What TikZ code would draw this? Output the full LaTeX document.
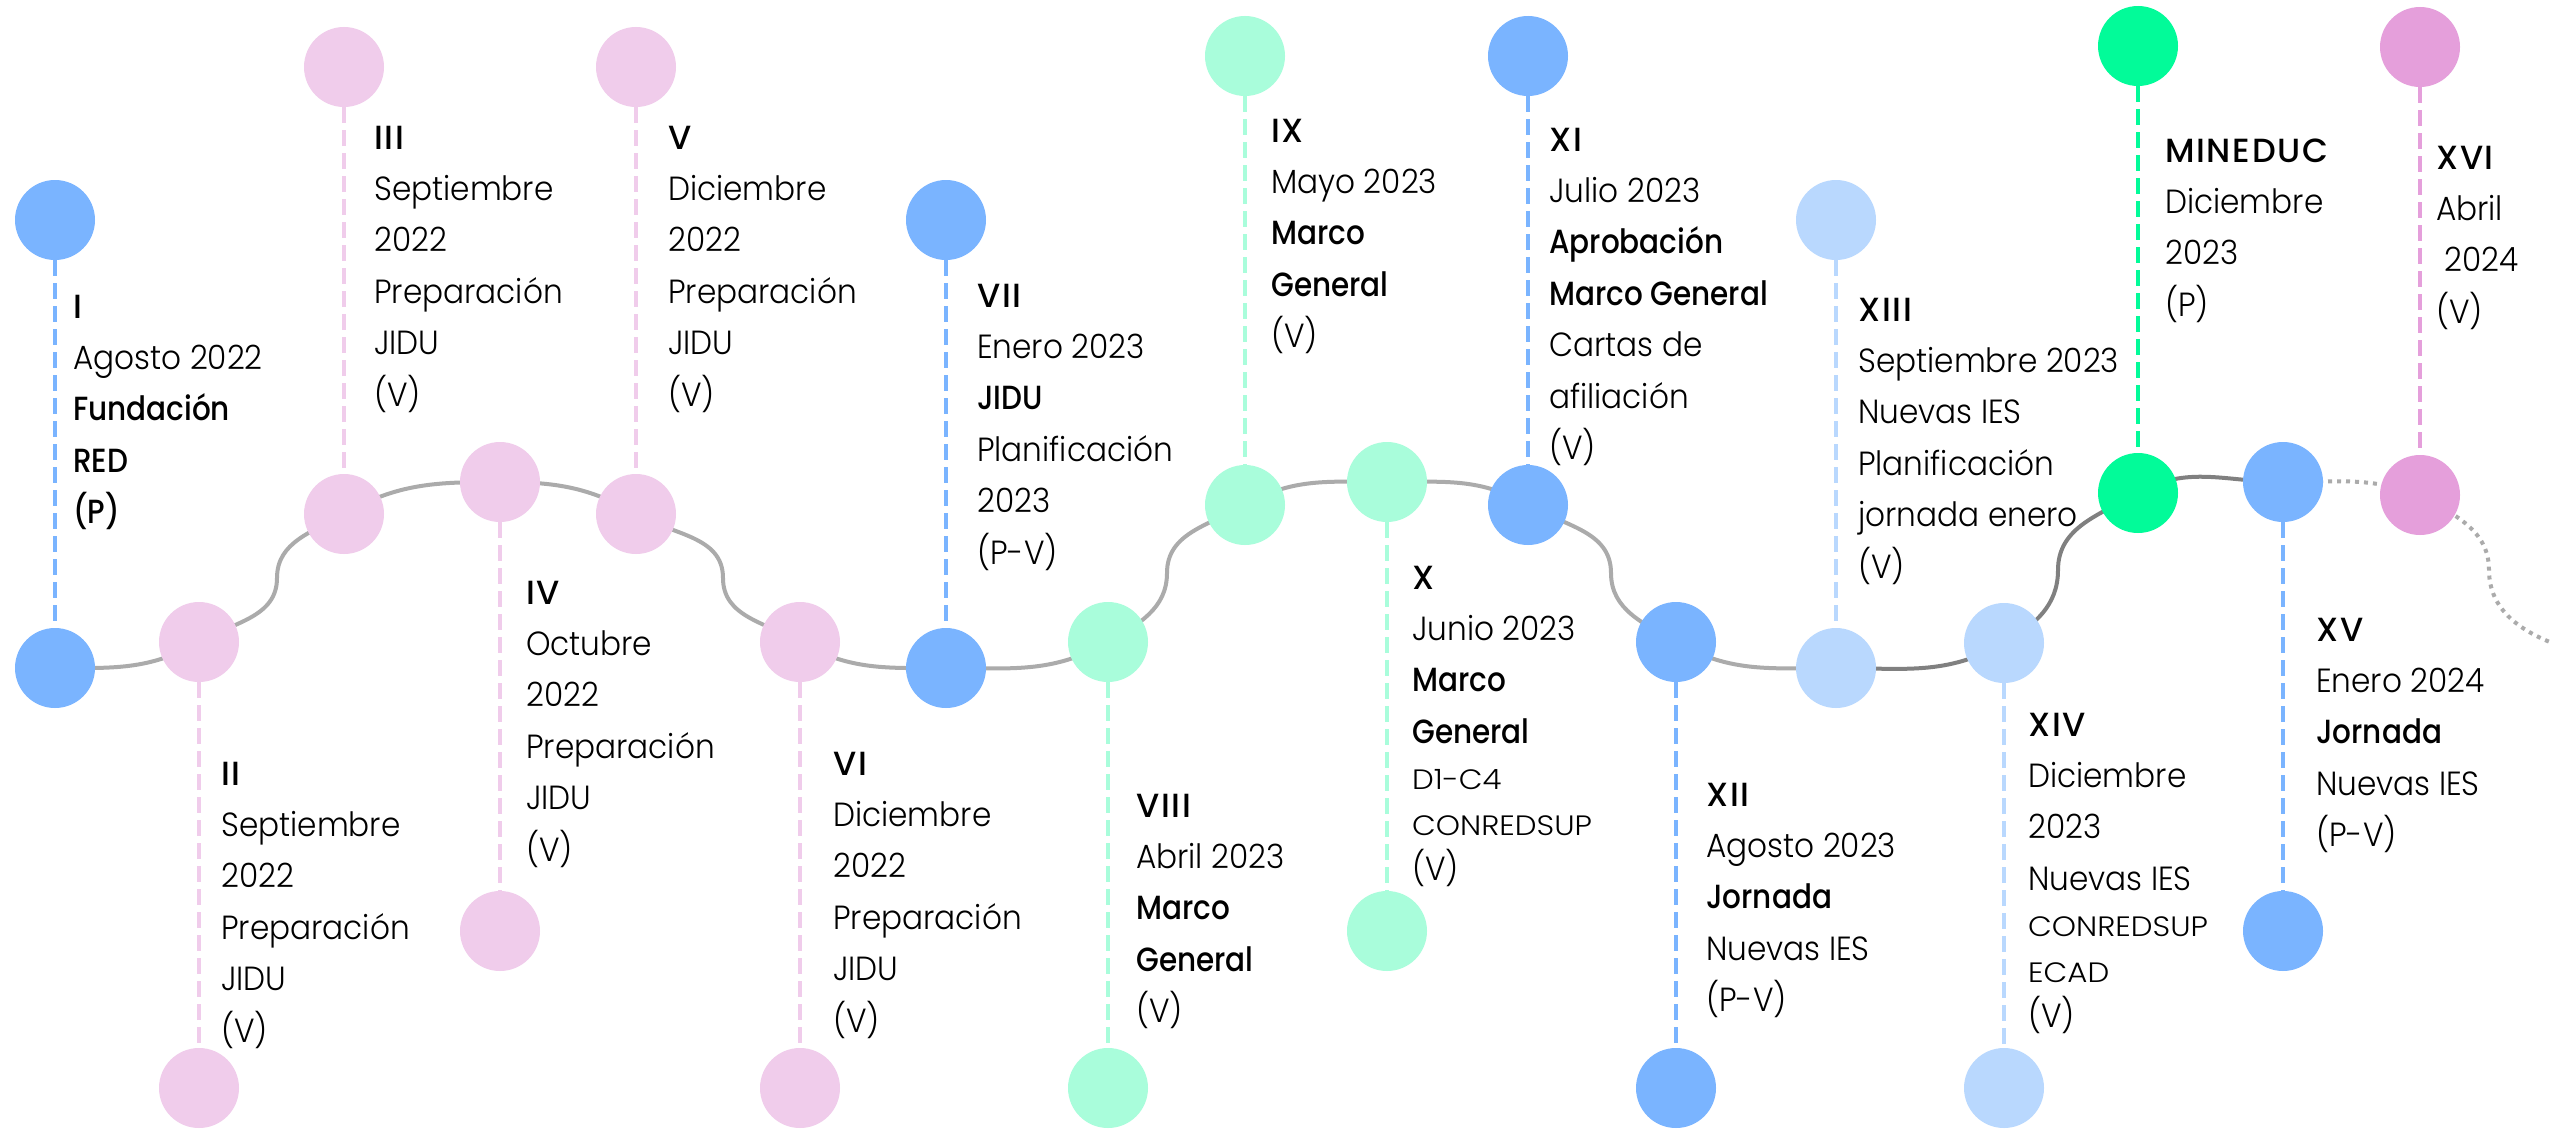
\documentclass[tikz,border=0pt]{standalone}
\usepackage{fontspec}
\IfFontExistsTF{Poppins Light}{\def\regfnt{Poppins Light}}{\def\regfnt{Poppins}}
\IfFontExistsTF{Poppins Medium}{\def\bldfnt{Poppins Medium}}{\def\bldfnt{Poppins Bold}}
\setmainfont{\regfnt}[FakeStretch=0.93]
\newfontfamily\bfam{\bldfnt}[FakeStretch=0.88]
\newfontfamily\nfam{\bldfnt}[LetterSpace=5]
\newfontfamily\smfam{\regfnt}[FakeStretch=1.1]
\pgfdeclarelayer{background}
\pgfsetlayers{background,main}
\definecolor{cblue}{HTML}{7AB4FF}
\definecolor{cpink}{HTML}{F0CCEB}
\definecolor{cmint}{HTML}{A9FDDB}
\definecolor{clblue}{HTML}{B9D8FE}
\definecolor{cgreen}{HTML}{02FB99}
\definecolor{corchid}{HTML}{E59FDB}
\definecolor{cgray}{HTML}{ABABAB}
\definecolor{cdgray}{HTML}{808080}
\newcommand\blk[1]{\vtop{\halign{##\hfil\cr#1\crcr}}}
\newcommand\B[1]{{\bfam #1}}
\newcommand\N[1]{{\nfam #1}}
\newcommand\sm[1]{{\smfam\fontsize{28}{30}\selectfont #1}}
\newcommand\tight{\noalign{\vskip-5.5pt}}
\begin{document}
\begin{tikzpicture}[x=1pt,y=1pt,
  dot/.style={circle,inner sep=0pt,minimum size=80pt},
  txt/.style={anchor=base west,inner sep=0pt,font=\fontsize{33.5}{51.4}\selectfont},
  conn/.style={line width=4.5pt,dash pattern=on 16pt off 7pt},
  wave/.style={line width=4pt,cgray},
  wavedark/.style={line width=4pt,cdgray},
  wavedot/.style={line width=4pt,cgray,dash pattern=on 4pt off 5pt}]
\useasboundingbox (0,0) rectangle (2552,-1132);
% path circles
\node[dot,fill=cblue]  (p1)  at (55,-668) {};
\node[dot,fill=cpink]  (p2)  at (199,-642) {};
\node[dot,fill=cpink]  (p3)  at (344,-514) {};
\node[dot,fill=cpink]  (p4)  at (500,-482) {};
\node[dot,fill=cpink]  (p5)  at (636,-514) {};
\node[dot,fill=cpink]  (p6)  at (800,-642) {};
\node[dot,fill=cblue]  (p7)  at (946,-668) {};
\node[dot,fill=cmint]  (p8)  at (1108,-642) {};
\node[dot,fill=cmint]  (p9)  at (1245,-505) {};
\node[dot,fill=cmint]  (p10) at (1387,-482) {};
\node[dot,fill=cblue]  (p11) at (1528,-505) {};
\node[dot,fill=cblue]  (p12) at (1676,-642) {};
\node[dot,fill=clblue] (p13) at (1836,-668) {};
\node[dot,fill=clblue] (p14) at (2004,-643) {};
\node[dot,fill=cgreen] (p15) at (2138,-493) {};
\node[dot,fill=cblue]  (p16) at (2283,-482) {};
\node[dot,fill=corchid] (p17) at (2420,-495) {};
% end circles
\node[dot,fill=cblue]  (q1)  at (55,-220) {};
\node[dot,fill=cpink]  (q2)  at (199,-1088) {};
\node[dot,fill=cpink]  (q3)  at (344,-67) {};
\node[dot,fill=cpink]  (q4)  at (500,-931) {};
\node[dot,fill=cpink]  (q5)  at (636,-67) {};
\node[dot,fill=cpink]  (q6)  at (800,-1088) {};
\node[dot,fill=cblue]  (q7)  at (946,-220) {};
\node[dot,fill=cmint]  (q8)  at (1108,-1088) {};
\node[dot,fill=cmint]  (q9)  at (1245,-56) {};
\node[dot,fill=cmint]  (q10) at (1387,-931) {};
\node[dot,fill=cblue]  (q11) at (1528,-56) {};
\node[dot,fill=cblue]  (q12) at (1676,-1088) {};
\node[dot,fill=clblue] (q13) at (1836,-220) {};
\node[dot,fill=clblue] (q14) at (2004,-1088) {};
\node[dot,fill=cgreen] (q15) at (2138,-46) {};
\node[dot,fill=cblue]  (q16) at (2283,-931) {};
\node[dot,fill=corchid] (q17) at (2420,-47) {};
% inflection points and end of the wave
\coordinate (m1) at (277,-578);
\coordinate (m2) at (723,-578);
\coordinate (m3) at (1167,-573);
\coordinate (m4) at (1611,-573);
\coordinate (m5) at (2058,-570);
\coordinate (m6) at (2489,-570);
\coordinate (e1) at (2560,-646);
% texts
\node[txt] (t1) at (73,-318) {\blk{\N{I}\cr Agosto 2022\cr \B{Fundación}\cr \B{RED}\cr \B{(P)}}};
\node[txt] (t2) at (221,-785) {\blk{\N{II}\cr Septiembre\cr 2022\cr Preparación\cr JIDU\cr (V)}};
\node[txt] (t3) at (374,-149) {\blk{\N{III}\cr Septiembre\cr 2022\cr Preparación\cr JIDU\cr (V)}};
\node[txt] (t4) at (526,-604) {\blk{\N{IV}\cr Octubre\cr 2022\cr Preparación\cr JIDU\cr (V)}};
\node[txt] (t5) at (668,-149) {\blk{\N{V}\cr Diciembre\cr 2022\cr Preparación\cr JIDU\cr (V)}};
\node[txt] (t6) at (833,-775) {\blk{\N{VI}\cr Diciembre\cr 2022\cr Preparación\cr JIDU\cr (V)}};
\node[txt] (t7) at (977,-307) {\blk{\N{VII}\cr Enero 2023\cr \B{JIDU}\cr Planificación\cr 2023\cr (P-V)}};
\node[txt] (t8) at (1136,-817) {\blk{\N{VIII}\cr Abril 2023\cr \B{Marco}\cr \B{General}\cr (V)}};
\node[txt] (t9) at (1271,-142) {\blk{\N{IX}\cr Mayo 2023\cr \B{Marco}\cr \B{General}\cr (V)}};
\node[txt] (t10) at (1412,-589) {\blk{\N{X}\cr Junio 2023\cr \B{Marco}\cr \B{General}\cr \tight\sm{D1-C4}\cr \tight\sm{CONREDSUP}\cr \tight (V)}};
\node[txt] (t11) at (1549,-151) {\blk{\N{XI}\cr Julio 2023\cr \B{Aprobación}\cr \B{Marco General}\cr Cartas de\cr afiliación\cr (V)}};
\node[txt] (t12) at (1706,-806) {\blk{\N{XII}\cr Agosto 2023\cr \B{Jornada}\cr Nuevas IES\cr (P-V)}};
\node[txt] (t13) at (1858,-321) {\blk{\N{XIII}\cr Septiembre 2023\cr Nuevas IES\cr Planificación\cr jornada enero\cr (V)}};
\node[txt] (t14) at (2028,-736) {\blk{\N{XIV}\cr Diciembre\cr 2023\cr Nuevas IES\cr \tight\sm{CONREDSUP}\cr \tight\sm{ECAD}\cr \tight (V)}};
\node[txt] (t15) at (2165,-162) {\blk{\N{MINEDUC}\cr Diciembre\cr 2023\cr (P)}};
\node[txt] (t16) at (2316,-641) {\blk{\N{XV}\cr Enero 2024\cr \B{Jornada}\cr Nuevas IES\cr (P-V)}};
\node[txt] (t17) at (2436,-169) {\blk{\N{XVI}\cr Abril\cr \ 2024\cr (V)}};
% connectors
\begin{pgfonlayer}{background}
\fill[white] (0,0) rectangle (2552,-1132);
\draw[wave] (p1.center) to[out=0,in=210] (p2.center) to[out=30,in=270] (m1)
  to[out=90,in=210] (p3.center) to[out=30,in=180] (p4.center)
  to[out=0,in=150] (p5.center) to[out=-30,in=90] (m2)
  to[out=-90,in=150] (p6.center) to[out=-30,in=180] (p7.center)
  to[out=0,in=210] (p8.center) to[out=30,in=270] (m3)
  to[out=90,in=210] (p9.center) to[out=30,in=180] (p10.center)
  to[out=0,in=150] (p11.center) to[out=-30,in=90] (m4)
  to[out=-90,in=150] (p12.center) to[out=-30,in=180] (p13.center);
\draw[wavedark] (p13.center) to[out=0,in=210] (p14.center) to[out=30,in=270] (m5)
  to[out=90,in=210] (p15.center) to[out=30,in=180] (p16.center);
\draw[wavedot] (p16.center) to[out=0,in=160] (p17.center) to[out=-30,in=90] (m6)
  to[out=-90,in=160] (e1);
\end{pgfonlayer}
\draw[conn,cblue] (q1) -- (p1);
\draw[conn,cpink] (p2) -- (q2);
\draw[conn,cpink] (q3) -- (p3);
\draw[conn,cpink] (p4) -- (q4);
\draw[conn,cpink] (q5) -- (p5);
\draw[conn,cpink] (p6) -- (q6);
\draw[conn,cblue] (q7) -- (p7);
\draw[conn,cmint] (p8) -- (q8);
\draw[conn,cmint] (q9) -- (p9);
\draw[conn,cmint] (p10) -- (q10);
\draw[conn,cblue] (q11) -- (p11);
\draw[conn,cblue] (p12) -- (q12);
\draw[conn,clblue] (q13) -- (p13);
\draw[conn,clblue] (p14) -- (q14);
\draw[conn,cgreen] (q15) -- (p15);
\draw[conn,cblue] (p16) -- (q16);
\draw[conn,corchid] (q17) -- (p17);
\end{tikzpicture}
\end{document}
